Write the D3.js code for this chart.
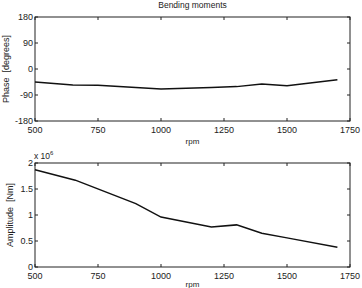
<!DOCTYPE html>
<html>
<head>
<meta charset="utf-8">
<script src="https://cdn.jsdelivr.net/npm/d3@7"></script>
<style>
  body { margin: 0; background: #fff; }
  text { font-family: "Liberation Sans", Arial, sans-serif; fill: #222; }
</style>
</head>
<body>
<div id="myChart"></div>
<script>
// Data
var phaseRpm   = [500, 650, 750, 1000, 1200, 1300, 1400, 1500, 1600, 1700];
var phase      = [-45, -55, -56, -69, -64, -61, -52, -58, -48, -37];
var ampRpm     = [500, 660, 900, 1000, 1200, 1300, 1400, 1500, 1700];
var amplitude  = [1.87, 1.67, 1.22, 0.96, 0.77, 0.81, 0.65, 0.56, 0.38];
var xTicks     = [500, 750, 1000, 1250, 1500, 1750];
var phaseTicks = [-180, -90, 0, 90, 180];
var ampTicks   = [0, 0.5, 1, 1.5, 2];

var W = 362, H = 288;
var svg = d3.select("#myChart")
  .append("svg")
    .attr("width", W)
    .attr("height", H);

var left = 35, right = 350, fs = 9;

function panel(top, bottom, yDomain, yTicks, xs, ys, ylabel, ylabelX) {
  var x = d3.scaleLinear().domain([500, 1750]).range([left, right]);
  var y = d3.scaleLinear().domain(yDomain).range([bottom, top]);
  var g = svg.append("g");

  // box
  g.append("rect")
    .attr("x", left).attr("y", top)
    .attr("width", right - left).attr("height", bottom - top)
    .attr("fill", "none").attr("stroke", "#222").attr("stroke-width", 1);

  // inward ticks, all four sides
  var tl = 3;
  xTicks.forEach(function(t) {
    g.append("line").attr("x1", x(t)).attr("x2", x(t))
      .attr("y1", bottom).attr("y2", bottom - tl).attr("stroke", "#222");
    g.append("line").attr("x1", x(t)).attr("x2", x(t))
      .attr("y1", top).attr("y2", top + tl).attr("stroke", "#222");
    g.append("text").attr("x", x(t)).attr("y", bottom + 12)
      .attr("text-anchor", "middle").attr("font-size", fs).text(t);
  });
  yTicks.forEach(function(t) {
    g.append("line").attr("x1", left).attr("x2", left + tl)
      .attr("y1", y(t)).attr("y2", y(t)).attr("stroke", "#222");
    g.append("line").attr("x1", right).attr("x2", right - tl)
      .attr("y1", y(t)).attr("y2", y(t)).attr("stroke", "#222");
    g.append("text").attr("x", left - 2).attr("y", y(t) + 3)
      .attr("text-anchor", "end").attr("font-size", fs).text(t);
  });

  var pts = xs.map(function(d, i) { return {x: d, y: ys[i]}; });
  g.append("path")
    .datum(pts)
    .attr("fill", "none")
    .attr("stroke", "#111")
    .attr("stroke-width", 1.5)
    .attr("d", d3.line()
      .x(function(d) { return x(d.x); })
      .y(function(d) { return y(d.y); }));

  g.append("text")
    .attr("x", (left + right) / 2).attr("y", Math.min(bottom + 23, H - 1))
    .attr("text-anchor", "middle").attr("font-size", 8).text("rpm");

  g.append("text")
    .attr("transform", "translate(" + ylabelX + "," + ((top + bottom) / 2) + ") rotate(-90)")
    .attr("text-anchor", "middle").attr("font-size", fs)
    .attr("xml:space", "preserve")
    .text(ylabel);
}

svg.append("text")
  .attr("x", (left + right) / 2).attr("y", 8)
  .attr("text-anchor", "middle").attr("font-size", 8.5)
  .text("Bending moments");

panel(17, 121, [-180, 180], phaseTicks, phaseRpm, phase, "Phase  [degrees]", 9);
panel(163, 267, [0, 2], ampTicks, ampRpm, amplitude, "Amplitude  [Nm]", 13);

// exponent label
var ex = svg.append("text").attr("x", 34).attr("y", 159).attr("font-size", 8.5);
ex.append("tspan").text("x 10");
ex.append("tspan").attr("dy", -4).attr("font-size", 6).text("6");
</script>
</body>
</html>
